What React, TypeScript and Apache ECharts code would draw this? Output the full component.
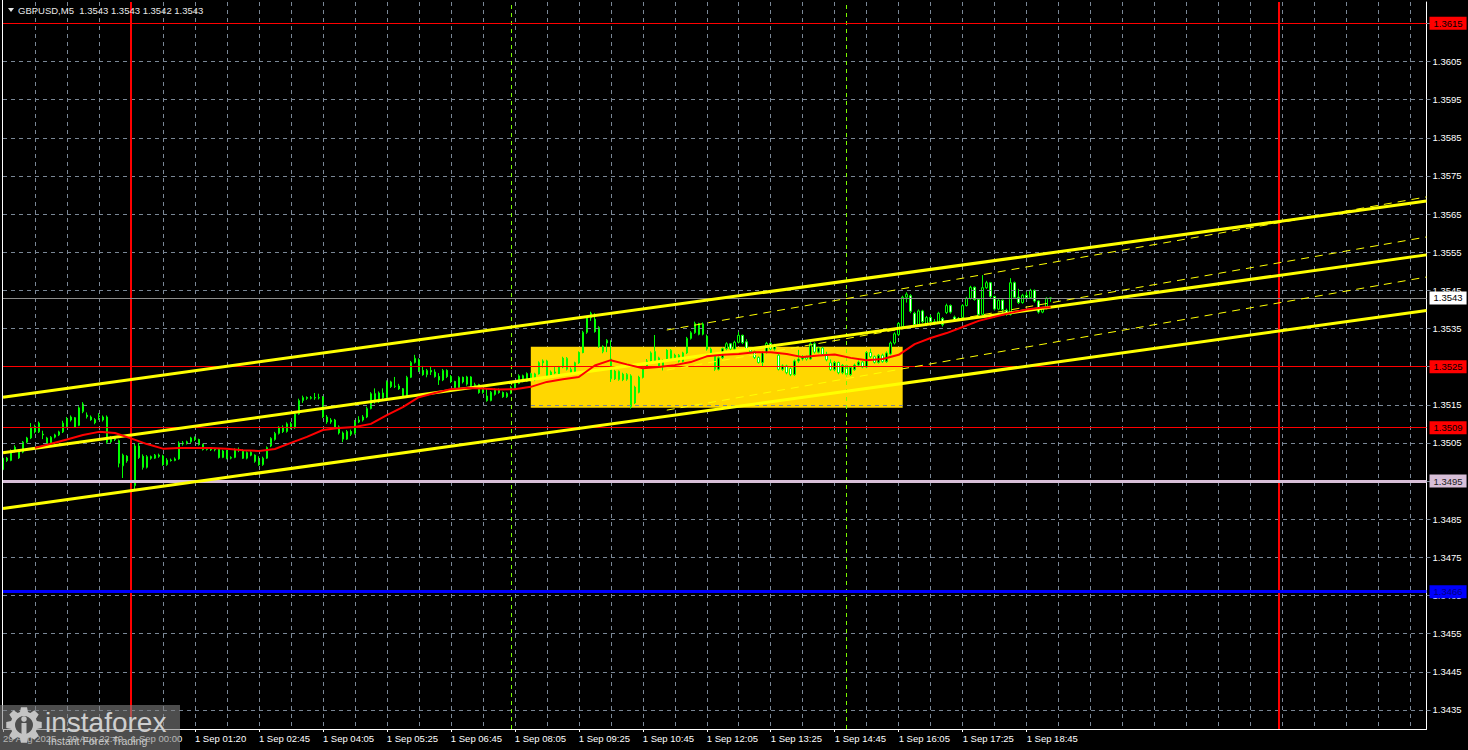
import React, { useEffect, useRef } from "react";
import * as echarts from "echarts";

// ---------------- DATA ----------------
// Prices are stored as pips above 1.3400 (e.g. 101.5 -> 1.34015)
const PIP_BASE = 1.34;
const toPrice = (p: number) => +(PIP_BASE + p / 10000).toFixed(5);

// GBPUSD M5 candles: [open, close, low, high] in pips above 1.3400
const candlePips: number[][] = [
  [98.0,101.0,97.5,101.5],[101.0,100.4,100.0,101.3],[100.4,103.0,100.2,103.3],[103.0,103.9,102.5,104.4],
  [102.8,101.1,100.8,103.2],[102.6,105.2,102.3,105.5],[105.2,106.3,104.9,106.6],[106.3,108.9,106.0,110.2],
  [109.2,107.9,107.5,109.8],[107.9,110.2,107.6,110.6],[107.3,107.1,106.0,108.2],[106.3,104.5,104.2,106.6],
  [104.8,106.5,104.5,106.8],[106.5,107.1,106.2,107.4],[107.1,107.9,106.8,108.2],[107.9,110.2,107.6,110.8],
  [109.4,111.3,109.0,111.8],[111.0,111.8,110.6,112.2],[111.6,109.2,109.0,111.8],[109.6,114.2,109.4,114.6],
  [113.2,115.2,112.8,115.7],[112.3,111.9,111.4,113.0],[111.8,111.1,110.8,112.2],[111.1,110.3,109.9,111.5],
  [111.9,112.1,111.0,112.8],[111.0,111.8,110.6,112.2],[111.8,105.2,104.8,112.2],[105.3,106.4,104.9,106.8],
  [106.4,105.9,105.5,106.8],[105.6,99.7,98.6,105.9],[99.0,101.8,95.8,102.2],[101.5,100.3,99.8,101.8],
  [99.8,94.0,92.8,100.0],[93.8,104.2,92.7,104.8],[104.2,101.2,100.8,105.0],[101.5,98.6,98.0,102.0],
  [98.6,101.4,98.3,101.8],[101.4,101.0,100.6,101.7],[101.0,101.8,100.8,102.1],[101.8,101.5,101.1,102.2],
  [101.6,99.3,99.0,101.9],[99.3,100.5,99.0,101.0],[100.5,100.4,100.1,100.9],[100.4,100.8,100.2,101.2],
  [100.8,105.0,100.6,105.4],[105.0,104.8,104.3,105.5],[104.8,105.3,104.6,105.6],[105.3,106.3,105.0,106.6],
  [106.3,105.9,105.5,106.7],[105.9,104.6,104.3,106.1],[104.6,103.3,103.0,104.8],[103.3,103.4,103.0,103.7],
  [103.4,103.2,102.9,103.6],[103.2,103.4,102.8,103.7],[103.4,101.2,100.9,103.6],[101.2,102.9,101.0,103.2],
  [103.0,101.0,100.7,103.2],[101.0,101.2,100.7,101.5],[101.2,103.3,101.0,103.6],[103.3,103.0,102.6,103.8],
  [103.0,101.0,100.8,103.3],[101.0,102.5,100.7,102.8],[102.5,101.8,101.5,102.8],[101.8,100.2,99.8,102.0],
  [100.2,99.3,99.0,101.5],[99.3,101.0,99.0,101.4],[101.0,103.8,100.8,104.1],[104.2,106.2,103.9,106.5],
  [105.9,107.5,105.6,107.9],[107.5,109.1,107.2,109.4],[109.1,108.0,107.6,109.6],[108.0,110.0,107.7,110.4],
  [110.0,109.0,108.6,110.5],[109.0,112.6,108.7,113.0],[112.6,116.1,112.4,116.6],[116.1,116.9,115.5,117.4],
  [116.9,116.7,116.3,117.2],[116.7,116.9,116.4,117.3],[116.9,116.8,116.3,118.1],[116.8,116.9,116.4,117.9],
  [117.0,111.8,111.5,117.3],[111.8,110.5,110.0,112.3],[110.5,111.0,110.0,111.5],[111.0,109.2,108.8,111.3],
  [109.2,107.6,107.2,109.6],[107.6,106.0,105.2,108.0],[106.0,108.0,105.8,108.4],[108.0,107.3,106.8,108.5],
  [107.5,110.5,107.2,111.0],[110.5,111.0,110.2,112.0],[111.0,111.8,110.6,112.3],[111.8,114.0,111.5,114.5],
  [114.0,117.9,113.8,118.3],[117.9,115.8,115.3,119.3],[115.8,118.1,115.5,118.5],[118.1,116.9,116.5,119.3],
  [116.9,121.0,116.7,121.4],[121.0,119.8,119.4,121.3],[119.8,119.9,119.4,122.3],[119.9,119.2,118.9,120.5],
  [119.2,117.2,116.8,119.4],[117.2,122.2,117.0,122.6],[122.2,126.1,122.0,126.5],[126.1,127.2,125.8,128.1],
  [126.8,124.0,123.6,127.2],[124.0,122.9,122.6,125.2],[122.9,124.0,122.2,124.4],[124.0,123.6,122.8,124.9],
  [123.6,122.4,122.1,124.3],[122.4,121.5,120.2,123.3],[121.5,124.0,121.2,124.4],[124.0,122.4,122.0,124.3],
  [122.4,121.1,120.7,122.8],[121.1,119.5,119.2,121.3],[119.5,122.2,119.3,122.5],[122.2,121.0,120.6,122.4],
  [120.4,122.3,120.0,122.6],[122.3,120.0,119.6,122.5],[120.0,120.3,119.7,120.8],[120.3,118.2,117.9,120.5],
  [118.2,119.0,117.9,119.4],[117.3,116.1,115.8,119.2],[116.1,118.3,115.9,118.6],[117.7,119.0,117.4,119.3],
  [119.0,118.2,117.9,119.3],[118.2,117.1,116.8,118.5],[117.1,118.0,116.8,118.3],[118.0,119.6,117.8,120.0],
  [119.6,120.6,119.2,121.0],[120.6,122.6,120.4,123.0],[122.6,121.2,120.9,122.9],[121.2,123.2,121.0,123.5],
  [123.2,121.5,121.1,123.4],[121.5,123.1,121.2,123.4],[123.1,126.0,122.9,126.4],[126.0,126.5,124.8,126.9],
  [126.5,122.5,122.1,126.8],[122.5,123.6,122.2,124.0],[123.6,123.3,123.0,124.9],[122.8,124.9,122.5,125.2],
  [124.9,127.2,124.6,127.6],[127.2,124.3,124.0,127.5],[124.3,123.3,122.9,124.8],[123.3,126.0,123.0,126.3],
  [126.0,128.7,125.7,129.0],[128.7,134.0,128.5,134.4],[134.0,137.8,133.6,138.2],[137.8,139.0,137.0,139.4],
  [137.4,134.2,133.9,139.0],[135.2,130.3,129.9,135.6],[130.3,128.9,128.5,130.6],[131.2,131.9,128.8,132.2],
  [127.0,121.8,121.0,131.9],[121.8,123.8,121.5,124.2],[123.8,121.6,121.3,124.0],[121.6,123.0,121.2,123.4],
  [123.0,121.7,121.3,123.3],[122.6,114.5,114.0,123.0],[115.5,119.6,115.2,120.0],[118.3,122.2,118.0,122.6],
  [122.2,124.8,121.9,125.2],[124.8,126.5,124.5,127.0],[126.5,128.6,126.2,129.0],[129.0,126.4,126.0,133.3],
  [127.3,125.0,124.7,127.6],[125.0,126.6,124.0,126.9],[126.6,129.3,126.3,129.6],[129.3,127.0,126.6,129.6],
  [127.0,128.0,126.7,128.4],[128.0,126.4,126.1,128.3],[126.4,128.6,126.1,128.9],[128.6,132.4,128.3,132.8],
  [132.4,133.9,132.1,134.3],[133.9,136.3,133.6,136.8],[136.3,133.5,133.2,136.5],[133.5,136.2,133.2,136.6],
  [133.0,129.6,129.2,133.4],[129.6,128.2,127.8,130.0],[128.2,124.3,123.9,128.4],[124.3,127.3,124.0,127.7],
  [127.3,129.7,127.0,130.0],[129.7,131.0,129.3,131.4],[131.0,129.6,129.2,131.2],[129.6,131.4,129.3,131.8],
  [131.4,133.2,131.1,134.1],[133.2,131.3,130.9,133.4],[131.5,129.5,129.1,132.2],[129.5,128.9,128.5,129.8],
  [128.9,127.4,127.0,129.2],[127.4,126.1,125.8,127.7],[126.1,128.7,125.1,129.0],[128.7,131.1,128.4,131.5],
  [131.1,129.6,129.3,131.4],[129.6,130.6,129.2,131.0],[128.0,124.3,124.0,128.4],[124.3,125.2,123.9,125.6],
  [125.2,123.4,123.0,125.5],[124.5,122.9,122.5,124.8],[122.9,126.5,122.6,126.9],[126.5,127.0,126.0,129.4],
  [127.0,127.5,126.6,128.0],[127.5,127.0,126.6,127.9],[127.0,131.0,126.8,131.4],[131.0,128.8,128.4,131.4],
  [128.8,129.9,128.5,130.2],[129.9,128.2,127.8,130.2],[128.2,126.8,126.4,128.9],[126.0,124.2,123.9,126.9],
  [124.2,126.1,123.8,126.5],[126.1,123.4,123.0,126.3],[123.4,125.3,123.0,125.7],[125.3,122.9,122.6,125.5],
  [122.9,124.8,122.6,125.1],[124.2,125.4,123.9,125.8],[125.4,126.2,125.1,126.6],[126.2,124.9,124.6,126.5],
  [124.9,128.7,124.6,129.1],[128.7,127.6,127.2,129.7],[127.6,126.1,125.8,127.9],[126.1,128.0,125.8,128.3],
  [128.0,126.3,126.0,128.4],[126.3,128.6,126.0,129.0],[128.3,131.2,128.0,131.6],[131.2,133.6,130.8,134.0],
  [133.4,136.3,133.0,136.7],[135.5,143.2,135.1,143.6],[143.2,144.0,141.8,144.5],[143.6,139.5,139.0,144.0],
  [139.0,136.0,135.6,139.4],[136.0,139.6,135.8,140.0],[139.6,136.8,136.4,139.9],[136.0,137.9,135.6,138.3],
  [137.9,136.8,136.4,138.6],[136.8,136.6,135.9,137.5],[136.6,139.0,136.2,139.4],[137.6,136.0,135.5,138.0],
  [139.2,141.0,138.8,141.5],[141.0,139.3,138.9,141.3],[138.0,137.3,136.8,138.4],[137.3,137.6,137.0,138.0],
  [137.9,141.0,137.6,141.4],[141.0,142.9,140.8,143.3],[142.9,145.8,142.6,146.2],[145.8,142.6,142.3,146.0],
  [142.6,138.7,138.3,142.8],[138.7,145.7,138.4,149.0],[145.7,147.0,145.4,147.5],[147.0,143.4,143.0,147.2],
  [143.4,140.1,139.7,143.6],[140.1,142.4,139.8,142.7],[142.4,140.0,139.0,142.6],[139.8,138.7,138.3,140.2],
  [138.7,147.0,138.4,148.2],[147.0,143.2,142.8,147.3],[143.2,141.8,141.4,145.4],[141.8,143.7,141.5,144.1],
  [143.7,143.1,142.7,144.6],[143.1,145.0,142.8,145.4],[145.0,142.2,141.8,145.2],[142.2,139.3,138.9,142.4],
  [139.3,140.3,139.0,140.6],[140.3,142.9,140.0,143.2],[143.0,143.0,142.0,143.0],
];

// Moving average (red), read at every 4th bar
const maSampleIndex = [8,12,16,20,24,28,32,36,40,44,48,52,56,60,64,68,72,76,80,84,88,92,96,100,104,108,112,116,120,124,128,132,136,140,144,148,152,156,160,164,168,172,176,180,184,188,192,196,200,204,208,212,216,220,224,228,232,236,240,244,248,252,256,260,262];
const maSamplePips = [103.7,104.8,105.9,107.1,107.9,107.6,106.2,104.7,103.5,103.7,103.7,103.7,103.5,103.1,102.9,103.4,105.0,106.6,108.4,108.9,109.2,110.0,112.3,114.4,117.0,118.1,119.1,119.4,119.3,119.0,119.1,119.7,121.0,121.7,122.3,125.3,126.7,125.6,124.6,124.9,125.4,126.2,127.7,128.1,128.3,128.8,128.8,128.3,127.5,127.9,128.2,127.3,126.7,127.0,128.1,130.9,132.5,133.8,135.4,137.0,138.1,139.1,140.0,140.5,140.6];

// Axis tick labels
const yTickLabels = ["1.3435","1.3445","1.3455","1.3465","1.3475","1.3485","1.3495","1.3505","1.3515","1.3525","1.3535","1.3545","1.3555","1.3565","1.3575","1.3585","1.3595","1.3605","1.3615"];
const xTickLabels = ["29 Aug 2025","29 Aug 22:40","1 Sep 00:00","1 Sep 01:20","1 Sep 02:45","1 Sep 04:05","1 Sep 05:25","1 Sep 06:45","1 Sep 08:05","1 Sep 09:25","1 Sep 10:45","1 Sep 12:05","1 Sep 13:25","1 Sep 14:45","1 Sep 16:05","1 Sep 17:25","1 Sep 18:45"];

// Horizontal levels
const levelPrices = [1.3615, 1.3543, 1.3525, 1.3509, 1.3495, 1.3466];
const levelKinds = ["red", "bid", "red", "red", "support", "blue"];

// Channels (pips at start/end bar)
const solidChannelBars = [0, 356];
const solidChannelStartPips = [116.99, 102.44, 87.76];
const solidChannelEndPips = [168.4, 154.27, 139.69];
const dashedChannelBars = [166, 356];
const dashedChannelStartPips = [134.6, 124.1, 113.6];
const dashedChannelEndPips = [169.5, 159.0, 148.5];

// Range box and vertical markers (bar indexes)
const boxBars = [132, 225];
const boxPrices = [1.35302, 1.35142];
const dayStartBars = [32, 319];
const sessionBars = [127, 211];

const TOTAL_BARS = 357;

// ---------------- HELPERS ----------------
function buildCategories(): string[] {
  const out: string[] = [];
  const fmt = (d: string, m: number) =>
    `${d} ${String(Math.floor(m / 60)).padStart(2, "0")}:${String(m % 60).padStart(2, "0")}`;
  for (let m = 21 * 60 + 20; m < 24 * 60; m += 5) out.push(fmt("29 Aug", m));
  let day = 1;
  let m = 0;
  while (out.length < TOTAL_BARS) {
    if (!(day === 1 && m === 120)) out.push(fmt(`${day} Sep`, m)); // one bar missing in the feed
    m += 5;
    if (m >= 1440) { m = 0; day++; }
  }
  return out;
}

function gearPath(n: number, R: number, r: number): string {
  const parts: string[] = [];
  for (let k = 0; k < n; k++) {
    const a = (k * 2 * Math.PI) / n;
    const seq = [[r, a - 0.3], [R, a - 0.17], [R, a + 0.17], [r, a + 0.3]];
    seq.forEach(([rad, ang], j) => {
      parts.push(`${k === 0 && j === 0 ? "M" : "L"}${(rad * Math.cos(ang)).toFixed(2)} ${(rad * Math.sin(ang)).toFixed(2)}`);
    });
  }
  return parts.join(" ") + " Z";
}

echarts.graphic.registerShape("ifxGear", echarts.graphic.extendPath(gearPath(8, 18, 13.5), {}));

const FONT = '"Liberation Sans", Arial, sans-serif';
const GRID_COLOR = "#7a8796";

const levelStyle: Record<string, any> = {
  red: { line: "#ff0000", width: 1, bg: "#ff0000", text: "#000000" },
  bid: { line: "#8c8c8c", width: 1, bg: "#ffffff", text: "#000000" },
  support: { line: "#d8bfd8", width: 3, bg: "#d8bfd8", text: "#202020" },
  blue: { line: "#0000ff", width: 3, bg: "#0000ff", text: "#000080" },
};

function buildOption() {
  const categories = buildCategories();
  const candles = candlePips.map((b) => b.map(toPrice));
  const ma: (number | null)[] = candlePips.map(() => null);
  maSampleIndex.forEach((idx, k) => { ma[idx] = toPrice(maSamplePips[k]); });
  const yTicks = yTickLabels.map(Number);

  const channelLines: any[] = [];
  solidChannelStartPips.forEach((p, k) => {
    channelLines.push([
      { coord: [solidChannelBars[0], toPrice(p)], lineStyle: { color: "#ffff00", width: 3, type: "solid" } },
      { coord: [solidChannelBars[1], toPrice(solidChannelEndPips[k])] },
    ]);
  });
  dashedChannelStartPips.forEach((p, k) => {
    channelLines.push([
      { coord: [dashedChannelBars[0], toPrice(p)], lineStyle: { color: "#ffff00", width: 1, type: [8, 6] } },
      { coord: [dashedChannelBars[1], toPrice(dashedChannelEndPips[k])] },
    ]);
  });

  const levelLines = levelPrices.map((price, k) => {
    const s = levelStyle[levelKinds[k]];
    return {
      yAxis: price,
      lineStyle: { color: s.line, width: s.width, type: "solid" },
      label: {
        show: true,
        position: "end",
        distance: 3,
        formatter: price.toFixed(4),
        backgroundColor: s.bg,
        color: s.text,
        padding: [1, 4, 1, 4],
        fontSize: 9.5,
        lineHeight: 11,
        fontFamily: FONT,
      },
    };
  });

  const verticalLines = [
    ...dayStartBars.map((b) => ({ xAxis: b, lineStyle: { color: "#ff0000", width: 2, type: "solid" } })),
    ...sessionBars.map((b) => ({ xAxis: b, lineStyle: { color: "#7cfc00", width: 1, type: [4, 4] } })),
  ];

  return {
    animation: false,
    backgroundColor: "#000000",
    grid: { left: 2.5, top: 2, width: 1424, height: 727, containLabel: false },
    xAxis: {
      type: "category",
      data: categories,
      boundaryGap: false,
      z: 0,
      axisLine: { show: true, lineStyle: { color: "#ffffff", width: 1 } },
      axisTick: {
        show: true,
        interval: (i: number) => i % 16 === 0 && i <= 256,
        length: 3,
        lineStyle: { color: "#ffffff" },
      },
      axisLabel: {
        interval: (i: number) => i % 16 === 0 && i / 16 < xTickLabels.length,
        formatter: (_v: string, i: number) => xTickLabels[i / 16] ?? "",
        color: "#ffffff",
        fontSize: 9.5,
        fontFamily: FONT,
        align: "left",
        margin: 4,
      },
      splitLine: {
        show: true,
        interval: (i: number) => i % 8 === 0 && i > 0,
        lineStyle: { color: GRID_COLOR, width: 1, type: [4, 4] },
      },
    },
    yAxis: {
      type: "value",
      position: "right",
      min: 1.343,
      max: 1.36206,
      scale: true,
      z: 0,
      axisLine: { show: true, lineStyle: { color: "#ffffff", width: 1 } },
      axisTick: { show: true, customValues: yTicks, length: 4, lineStyle: { color: GRID_COLOR } },
      axisLabel: {
        customValues: yTicks,
        formatter: (v: number) => v.toFixed(4),
        color: "#ffffff",
        fontSize: 9.5,
        fontFamily: FONT,
        margin: 6,
      },
      splitLine: { show: false },
    },
    series: [
      {
        name: "range box",
        type: "line",
        data: [],
        z: -1,
        silent: true,
        markArea: {
          silent: true,
          itemStyle: { color: "#ffd700", opacity: 1, borderWidth: 0 },
          data: [[{ xAxis: boxBars[0], yAxis: boxPrices[0] }, { xAxis: boxBars[1], yAxis: boxPrices[1] }]],
        },
      },
      {
        name: "grid",
        type: "line",
        data: [],
        z: 1,
        silent: true,
        markLine: {
          silent: true,
          precision: 5,
          symbol: ["none", "none"],
          label: { show: false },
          lineStyle: { color: GRID_COLOR, width: 1, type: [4, 4] },
          data: yTicks.map((v) => ({ yAxis: v })),
        },
      },
      {
        name: "levels",
        type: "line",
        data: [],
        z: 2,
        silent: true,
        markLine: {
          silent: true,
          precision: 5,
          symbol: ["none", "none"],
          label: { show: false },
          data: [...verticalLines, ...levelLines],
        },
      },
      {
        name: "channels",
        type: "line",
        data: [],
        z: 3,
        silent: true,
        markLine: {
          silent: true,
          precision: 5,
          symbol: ["none", "none"],
          label: { show: false },
          data: channelLines,
        },
      },
      {
        name: "GBPUSD,M5",
        type: "candlestick",
        data: candles,
        barWidth: 2,
        z: 4,
        itemStyle: {
          color: "#000000",
          color0: "#ffffff",
          borderColor: "#00ff00",
          borderColor0: "#00ff00",
          borderColorDoji: "#00ff00",
          borderWidth: 1,
        },
      },
      {
        name: "MA",
        type: "line",
        data: ma,
        connectNulls: true,
        symbol: "none",
        showSymbol: false,
        z: 5,
        lineStyle: { color: "#ff0000", width: 2 },
      },
    ],
    graphic: [
      { type: "line", z: 10, shape: { x1: 2.5, y1: 0, x2: 2.5, y2: 729 }, style: { stroke: "#ffffff", lineWidth: 1 } },
      { type: "polygon", z: 10, shape: { points: [[8, 8], [14, 8], [11, 12]] }, style: { fill: "#e8e8e8" } },
      {
        type: "text", z: 10, x: 18, y: 10,
        style: { text: "GBPUSD,M5  1.3543 1.3543 1.3542 1.3543", fill: "#e8e8e8", font: `9.5px ${FONT}`, verticalAlign: "middle", textVerticalAlign: "middle" },
      },
      { type: "rect", z: 50, shape: { x: 0, y: 705, width: 180, height: 45 }, style: { fill: "rgba(128,128,128,0.6)" } },
      { type: "ifxGear", z: 51, x: 24, y: 725, style: { fill: "#c4c4c4" } },
      { type: "circle", z: 52, shape: { cx: 24, cy: 725, r: 9 }, style: { fill: "#4d4d4d" } },
      { type: "circle", z: 53, shape: { cx: 24, cy: 719, r: 2.8 }, style: { fill: "#c4c4c4" } },
      { type: "rect", z: 53, shape: { x: 21.5, y: 723, width: 5, height: 11 }, style: { fill: "#c4c4c4" } },
      {
        type: "text", z: 53, x: 45, y: 722,
        style: { text: "instaforex", fill: "#cfcfcf", font: `28px ${FONT}`, verticalAlign: "middle", textVerticalAlign: "middle" },
      },
      {
        type: "text", z: 53, x: 48, y: 741,
        style: { text: "Instant Forex Trading", fill: "#c8c8c8", font: `10.5px ${FONT}`, verticalAlign: "middle", textVerticalAlign: "middle" },
      },
    ],
  };
}

export default function App() {
  const ref = useRef<HTMLDivElement>(null);
  useEffect(() => {
    if (!ref.current) return;
    const chart = echarts.init(ref.current, null, { renderer: "svg" });
    chart.setOption(buildOption() as any);
    return () => chart.dispose();
  }, []);
  return <div ref={ref} style={{ position: "absolute", left: 0, top: 0, width: 1468, height: 750 }} />;
}
